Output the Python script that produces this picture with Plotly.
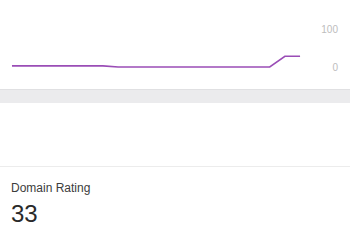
import plotly.graph_objects as go

W, H = 350, 244
periods = list(range(20))
rating = [3, 3, 3, 3, 3, 3, 3, 0, 0, 0, 0, 0, 0, 0, 0, 0, 0, 0, 29, 29]
tick_vals = [0, 100]
tick_text = ["100" if v == 100 else "0" for v in tick_vals]
metric_label = "Domain Rating"
metric_value = "33"

def py(p):
    return 1 - p / H

fig = go.Figure()
fig.add_trace(go.Scatter(x=periods, y=rating, mode="lines",
                         line=dict(color="#9a4db6", width=1.6),
                         hoverinfo="skip", showlegend=False))

fig.update_layout(
    width=W, height=H, margin=dict(l=0, r=0, t=0, b=0),
    paper_bgcolor="white", plot_bgcolor="white",
    font=dict(family="Liberation Sans, Arial, sans-serif"),
    xaxis=dict(domain=[0, 341 / W], range=[-0.79, 21.7], visible=False, fixedrange=True),
    yaxis=dict(domain=[py(80), py(20)], range=[-35.1, 127], side="right",
               tickvals=tick_vals, ticktext=tick_text, ticklabelposition="inside",
               showgrid=False, zeroline=False, showline=False, ticks="",
               tickfont=dict(size=10, color="#bdbdbd"), fixedrange=True),
    shapes=[
        dict(type="rect", xref="paper", yref="paper", x0=0, x1=1, y0=py(103), y1=py(89),
             fillcolor="#ebebed", line=dict(width=0), layer="below"),
        dict(type="line", xref="paper", yref="paper", x0=0, x1=1, y0=py(89.5), y1=py(89.5),
             line=dict(color="#e0e0e2", width=1)),
        dict(type="line", xref="paper", yref="paper", x0=0, x1=1, y0=py(166.5), y1=py(166.5),
             line=dict(color="#ececec", width=1)),
    ],
    annotations=[
        dict(text=metric_label, xref="paper", yref="paper", x=9 / W, y=py(188),
             xanchor="left", yanchor="middle", showarrow=False,
             font=dict(size=12, color="#3c3c3c")),
        dict(text=metric_value, xref="paper", yref="paper", x=8.5 / W, y=py(213.5),
             xanchor="left", yanchor="middle", showarrow=False,
             font=dict(size=24, color="#2a2a2a")),
    ],
)
fig.write_html("out.html")
